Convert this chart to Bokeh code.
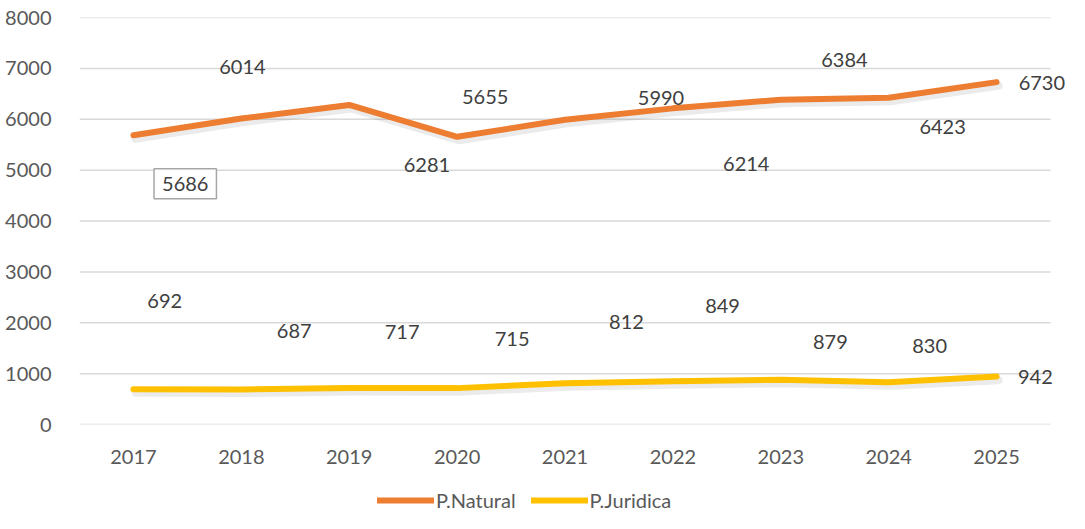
from bokeh.plotting import figure
from bokeh.layouts import column
from bokeh.models import (FixedTicker, Legend, LegendItem, Label, LabelSet, ColumnDataSource)
from bokeh.core.properties import value
from bokeh.embed import file_html
from bokeh.resources import INLINE

years = ["2017", "2018", "2019", "2020", "2021", "2022", "2023", "2024", "2025"]
natural = [5686, 6014, 6281, 5655, 5990, 6214, 6384, 6423, 6730]
juridica = [692, 687, 717, 715, 812, 849, 879, 830, 942]
y_ticks = [0, 1000, 2000, 3000, 4000, 5000, 6000, 7000, 8000]
series_names = ["P.Natural", "P.Juridica"]

# label placement (as in the original, where data labels were dragged around)
nat_lbl_x = [0.48, 1.01, 2.72, 3.26, 4.89, 5.68, 6.59, 7.50, 8.42]
nat_lbl_y = [4734, 7034, 5101, 6435, 6415, 5121, 7169, 5855, 6705]
jur_lbl_x = [0.29, 1.49, 2.49, 3.51, 4.57, 5.46, 6.46, 7.38, 8.36]
jur_lbl_y = [2435, 1836, 1816, 1681, 2010, 2338, 1623, 1546, 928]

FONT = "Lato"
FS = "20px"
ORANGE = "#ED7D31"
YELLOW = "#FFC000"
TXT = "#404040"
AX = "#595959"
GRID = "#D9D9D9"

idx = list(range(len(years)))
x_lo, x_hi = -0.5, 8.5

p = figure(width=1069, height=468, output_backend="svg", toolbar_location=None,
           x_range=(x_lo, 8.676), y_range=(0, 8000),
           min_border_left=79, min_border_right=0, min_border_top=17,
           min_border_bottom=44)
p.outline_line_color = None
p.xgrid.grid_line_color = None
p.ygrid.grid_line_color = None

# horizontal gridlines ending at the last category slot
p.segment(x0=[x_lo] * len(y_ticks), x1=[x_hi] * len(y_ticks), y0=y_ticks, y1=y_ticks,
          line_color=GRID, line_width=1.5)

p.yaxis.ticker = FixedTicker(ticks=y_ticks)
p.yaxis.axis_line_color = None
p.yaxis.major_tick_line_color = None
p.yaxis.minor_tick_line_color = None
p.yaxis.major_label_standoff = 22
p.yaxis.major_label_text_font = FONT
p.yaxis.major_label_text_font_size = FS
p.yaxis.major_label_text_color = AX

p.xaxis.ticker = FixedTicker(ticks=idx)
p.xaxis.major_label_overrides = {i: y for i, y in zip(idx, years)}
p.xaxis.axis_line_color = None
p.xaxis.major_tick_line_color = None
p.xaxis.minor_tick_line_color = None
p.xaxis.major_label_standoff = 19
p.xaxis.major_label_text_font = FONT
p.xaxis.major_label_text_font_size = FS
p.xaxis.major_label_text_color = AX

# soft shadows
for series in (natural, juridica):
    p.line([i + 0.02 for i in idx], [v - 70 for v in series], line_color="#000000",
           line_alpha=0.08, line_width=8, line_cap="round", line_join="round")

p.line(idx, natural, line_color=ORANGE, line_width=6, line_cap="round", line_join="round")
p.line(idx, juridica, line_color=YELLOW, line_width=6, line_cap="round", line_join="round")

# labels
nat_src = ColumnDataSource(dict(x=nat_lbl_x[1:], y=nat_lbl_y[1:], t=[str(v) for v in natural[1:]]))
p.add_layout(LabelSet(x="x", y="y", text="t", source=nat_src, text_font=value(FONT),
                      text_font_size=value(FS), text_color=TXT, text_align="center",
                      text_baseline="middle"))
p.add_layout(Label(x=nat_lbl_x[0], y=nat_lbl_y[0], text=str(natural[0]), text_font=FONT,
                   text_font_size=FS, text_color=TXT, text_align="center",
                   text_baseline="middle", border_line_color="#A6A6A6", border_line_width=1.5,
                   background_fill_color="white", padding=8))
jur_src = ColumnDataSource(dict(x=jur_lbl_x, y=jur_lbl_y, t=[str(v) for v in juridica]))
p.add_layout(LabelSet(x="x", y="y", text="t", source=jur_src, text_font=value(FONT),
                      text_font_size=value(FS), text_color=TXT, text_align="center",
                      text_baseline="middle"))

# legend strip (sample lines kept outside the strip's visible range)
lg = figure(width=1069, height=45, output_backend="svg", toolbar_location=None,
            x_range=(0, 1), y_range=(0, 1), min_border=0)
lg.axis.visible = False
lg.grid.visible = False
lg.outline_line_color = None
r1 = lg.line([-3, -2], [-3, -2], line_color=ORANGE, line_width=6, line_cap="round")
r2 = lg.line([-3, -2], [-3, -2], line_color=YELLOW, line_width=6, line_cap="round")
legend = Legend(items=[LegendItem(label=series_names[0], renderers=[r1]),
                       LegendItem(label=series_names[1], renderers=[r2])],
                orientation="horizontal", location=(298, 1),
                glyph_width=57, glyph_height=24, label_standoff=2, spacing=15,
                padding=0, margin=0, border_line_color=None, background_fill_alpha=0,
                label_text_font=FONT, label_text_font_size=FS, label_text_color=AX)
lg.add_layout(legend, "center")

layout = column(p, lg, spacing=0)
open("out.html", "w").write(file_html(layout, INLINE))
